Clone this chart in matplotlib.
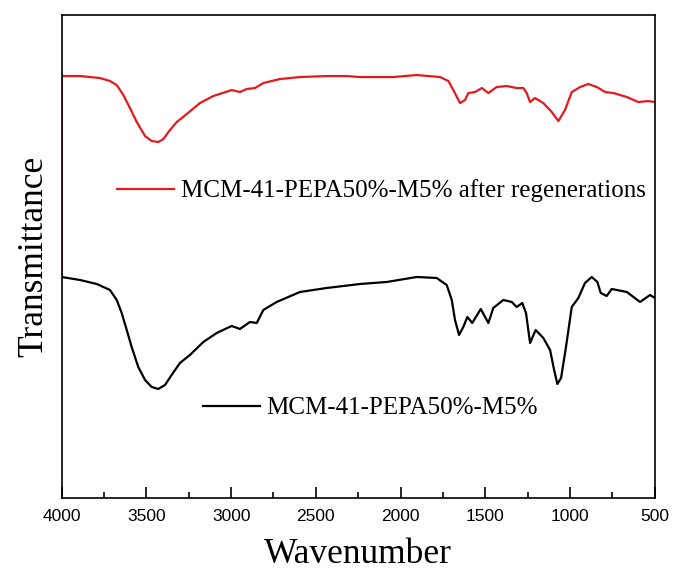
import matplotlib
matplotlib.use("Agg")
import matplotlib.pyplot as plt
from matplotlib.ticker import MultipleLocator

# FTIR spectra (wavenumber in cm-1, transmittance in arbitrary units)
wn_red = [4000, 4000, 3892, 3774, 3715, 3675, 3636, 3597, 3557, 3508, 3469, 3430, 3400,
          3361, 3321, 3262, 3184, 3105, 2997, 2948, 2908, 2859, 2810, 2712, 2594,
          2436, 2318, 2239, 2043, 1905, 1767, 1718, 1689, 1649, 1620, 1600, 1561,
          1521, 1482, 1433, 1374, 1315, 1276, 1256, 1236, 1207, 1158, 1108, 1069,
          1030, 990, 941, 892, 842, 793, 744, 665, 597, 538, 500]
t_red = [220, 422, 422, 420, 417, 413, 403, 390, 376, 362, 357, 356, 359,
         368, 376, 384, 395, 402, 408, 406, 409, 410, 415, 419, 421,
         422, 422, 421, 421, 423, 421, 417, 408, 395, 398, 405, 406,
         410, 405, 411, 412, 410, 410, 405, 396, 400, 395, 386, 377,
         388, 406, 411, 414, 411, 406, 405, 401, 396, 397, 396]

wn_black = [4000, 3892, 3793, 3715, 3675, 3646, 3616, 3587, 3548, 3508, 3469, 3430, 3390,
            3351, 3302, 3243, 3164, 3085, 2997, 2948, 2889, 2849, 2810, 2731, 2594,
            2436, 2239, 2082, 1905, 1787, 1728, 1698, 1679, 1655, 1630, 1606, 1577,
            1527, 1482, 1453, 1394, 1344, 1315, 1282, 1260, 1236, 1203, 1158, 1118,
            1094, 1075, 1053, 1024, 990, 951, 912, 872, 839, 819, 784, 754, 665,
            587, 528, 500]
t_black = [221, 218, 214, 208, 198, 185, 168, 151, 131, 118, 111, 109, 113,
           123, 135, 143, 156, 165, 172, 169, 176, 175, 188, 196, 206,
           210, 214, 216, 221, 220, 213, 198, 178, 163, 171, 181, 175,
           189, 175, 190, 198, 196, 191, 195, 185, 155, 168, 160, 148,
           128, 114, 120, 151, 191, 200, 215, 221, 216, 205, 202, 209, 206,
           196, 203, 200]

label_red = "MCM-41-PEPA50%-M5% after regenerations"
label_black = "MCM-41-PEPA50%-M5%"

fig = plt.figure(figsize=(6.74, 5.79), dpi=100)
ax = fig.add_axes([0.0915, 0.140, 0.880, 0.834])

red_line, = ax.plot(wn_red, t_red, color="#e31a1c", lw=1.6)
black_line, = ax.plot(wn_black, t_black, color="black", lw=1.6)

ax.set_xlim(4000, 500)
ax.set_ylim(0, 483)
ax.xaxis.set_major_locator(MultipleLocator(500))
ax.xaxis.set_minor_locator(MultipleLocator(250))
ax.tick_params(axis="x", which="major", direction="in", length=8, width=1.2,
               labelsize=12.5, pad=8)
ax.tick_params(axis="x", which="minor", direction="in", length=4, width=1.2)
ax.set_yticks([])
for lab in ax.get_xticklabels():
    lab.set_family("Liberation Sans")
for sp in ax.spines.values():
    sp.set_linewidth(1.2)

ax.set_xlabel("Wavenumber", family="Liberation Serif", fontsize=25.5, labelpad=10)
ax.set_ylabel("Transmittance", family="Liberation Serif", fontsize=25.5, labelpad=8)

leg_font = {"family": "Liberation Serif", "size": 18}
leg1 = ax.legend([red_line], [label_red], loc="center left",
                 bbox_to_anchor=(0.093, 0.636), frameon=False, borderpad=0,
                 borderaxespad=0, handlelength=2.27, handletextpad=0.28,
                 prop=leg_font)
ax.add_artist(leg1)
ax.legend([black_line], [label_black], loc="center left",
          bbox_to_anchor=(0.238, 0.186), frameon=False, borderpad=0,
          borderaxespad=0, handlelength=2.27, handletextpad=0.28,
          prop=leg_font)

fig.savefig("out.png", dpi=100)
